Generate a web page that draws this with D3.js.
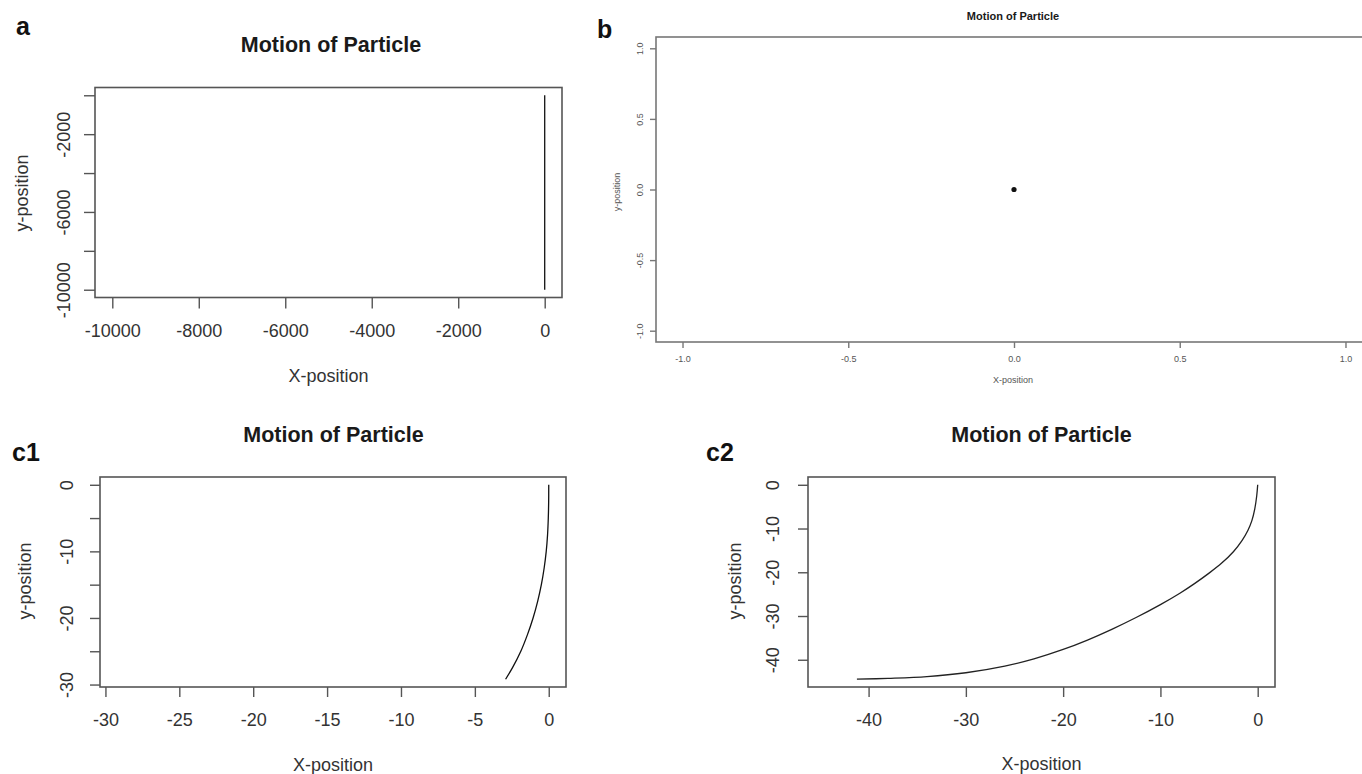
<!DOCTYPE html>
<html>
<head>
<meta charset="utf-8">
<script src="https://cdn.jsdelivr.net/npm/d3@7"></script>
<style>
  body { margin: 0; background: #fff; }
  svg { display: block; font-family: "Liberation Sans", Arial, sans-serif; }
</style>
</head>
<body>
<svg id="fig" width="1362" height="774"></svg>
<script>
// panel a: straight drop
var aX = [0, 0];
var aY = [0, -10000];
var aXTicks = [-10000, -8000, -6000, -4000, -2000, 0];
var aYTicks = [0, -2000, -4000, -6000, -8000, -10000];
var aYLabels = [-2000, -6000, -10000];

// panel b: particle stays at origin
var bX = [0];
var bY = [0];
var bTicks = [-1, -0.5, 0, 0.5, 1];

// panel c1
var c1X = [0, -0.005, -0.03, -0.08, -0.17, -0.31, -0.5, -0.75, -1.06, -1.44, -1.89, -2.46, -2.92];
var c1Y = [0, -2.5, -5, -7.5, -10, -12.5, -15, -17.5, -20, -22.5, -25, -27.5, -29.2];
var c1XTicks = [-30, -25, -20, -15, -10, -5, 0];
var c1YTicks = [0, -5, -10, -15, -20, -25, -30];
var c1YLabels = [0, -10, -20, -30];

// panel c2
var c2X = [0, -0.1, -0.3, -0.6, -1.0, -1.6, -2.5, -3.7, -5.0, -6.5, -8.0, -10.0, -12.5, -15.0, -17.5, -20.0, -23.0, -26.0, -30.0, -34.0, -38.0, -41.2];
var c2Y = [0, -2.5, -5.5, -8.2, -10.4, -12.7, -15.3, -17.9, -20.2, -22.6, -24.8, -27.4, -30.35, -33.05, -35.5, -37.65, -39.8, -41.45, -42.97, -43.85, -44.25, -44.45];
var c2Ticks = [-40, -30, -20, -10, 0];

var svg = d3.select("#fig");

// R pads the axis range by 4% on each side
function padded(ext) {
    var p = (ext[1] - ext[0]) * 0.04;
    return [ext[0] - p, ext[1] + p];
}

function panel(o) {
    var g = svg.append("g");
    var x = d3.scaleLinear().domain(o.xDomain).range([o.left, o.right]);
    var y = d3.scaleLinear().domain(o.yDomain).range([o.bottom, o.top]);

    // x axis
    var xa = g.append("g")
        .attr("transform", "translate(0," + o.bottom + ")")
        .call(d3.axisBottom(x).tickValues(o.xTicks).tickSize(o.tick).tickPadding(0)
            .tickFormat(o.fmt));
    xa.select(".domain").remove();
    xa.selectAll("line").attr("stroke", o.axisColor).attr("stroke-width", 1.4);
    xa.selectAll("text")
        .attr("y", o.xLabelY - o.bottom).attr("dy", 0)
        .attr("fill", o.textColor)
        .style("font-size", o.tickFont + "px");

    // y axis, labels parallel to the axis
    var ya = g.append("g")
        .attr("transform", "translate(" + o.left + ",0)")
        .call(d3.axisLeft(y).tickValues(o.yTicks).tickSize(o.tick)
            .tickFormat(function(d) {
                return o.yLabels.indexOf(d) >= 0 ? o.fmt(d) : "";
            }));
    ya.select(".domain").remove();
    ya.selectAll("line").attr("stroke", o.axisColor).attr("stroke-width", 1.4);
    ya.selectAll("text")
        .attr("transform", "rotate(-90)")
        .attr("x", 0).attr("y", o.yLabelX - o.left).attr("dy", 0)
        .attr("fill", o.textColor)
        .style("text-anchor", "middle")
        .style("font-size", o.tickFont + "px");

    // data
    var pts = o.xs.map(function(d, i) { return [d, o.ys[i]]; });
    if (pts.length > 1) {
        g.append("path")
            .datum(pts)
            .attr("fill", "none")
            .attr("stroke", o.lineColor)
            .attr("stroke-width", 1.3)
            .attr("d", d3.line().curve(d3.curveCatmullRom)
                .x(function(d) { return x(d[0]); })
                .y(function(d) { return y(d[1]); }));
    } else {
        g.selectAll("circle").data(pts).enter().append("circle")
            .attr("cx", function(d) { return x(d[0]); })
            .attr("cy", function(d) { return y(d[1]); })
            .attr("r", 2.6)
            .attr("fill", "#111");
    }

    // box
    g.append("rect")
        .attr("x", o.left).attr("y", o.top)
        .attr("width", o.right - o.left).attr("height", o.bottom - o.top)
        .attr("fill", "none")
        .attr("stroke", o.axisColor)
        .attr("stroke-width", 1.6);

    // titles
    g.append("text")
        .attr("x", o.titleX).attr("y", o.titleY)
        .attr("text-anchor", "middle")
        .attr("font-weight", "bold")
        .attr("fill", "#1a1a1a")
        .style("font-size", o.titleFont + "px")
        .text("Motion of Particle");

    g.append("text")
        .attr("x", (o.left + o.right) / 2 + (o.xTitleShift || 0)).attr("y", o.xTitleY)
        .attr("text-anchor", "middle")
        .attr("fill", o.textColor)
        .style("font-size", o.axisFont + "px")
        .text("X-position");

    g.append("text")
        .attr("transform", "translate(" + o.yTitleX + "," + o.yTitleY + ") rotate(-90)")
        .attr("text-anchor", "middle")
        .attr("fill", o.textColor)
        .style("font-size", o.axisFont + "px")
        .text("y-position");

    // panel letter
    g.append("text")
        .attr("x", o.tagX).attr("y", o.tagY)
        .attr("font-weight", "bold")
        .attr("fill", "#111")
        .style("font-size", o.tagFont + "px")
        .text(o.tag);
}

var intFmt = function(d) { return String(d); };

var aDom = padded(d3.extent(aY));
panel({
    tag: "a", tagX: 16, tagY: 35, tagFont: 25,
    xs: aX, ys: aY, xDomain: aDom, yDomain: aDom,
    left: 95, right: 562, top: 87.5, bottom: 297.5,
    xTicks: aXTicks, yTicks: aYTicks, yLabels: aYLabels, fmt: intFmt,
    tick: 11, tickFont: 18, axisFont: 18, titleFont: 21.5,
    xLabelY: 337, yLabelX: 70,
    titleX: 331, titleY: 52,
    xTitleY: 382, xTitleShift: 0, yTitleX: 28, yTitleY: 193,
    axisColor: "#555", textColor: "#333", lineColor: "#111"
});

panel({
    tag: "b", tagX: 597, tagY: 38, tagFont: 25,
    xs: bX, ys: bY, xDomain: padded([-1, 1]), yDomain: padded([-1, 1]),
    left: 656, right: 1372, top: 37, bottom: 342,
    xTicks: bTicks, yTicks: bTicks, yLabels: bTicks,
    fmt: function(d) { return d.toFixed(1); },
    tick: 6, tickFont: 9, axisFont: 9, titleFont: 11,
    xLabelY: 362, yLabelX: 643,
    titleX: 1013, titleY: 20,
    xTitleY: 383, xTitleShift: -1, yTitleX: 620, yTitleY: 192,
    axisColor: "#777", textColor: "#555", lineColor: "#111"
});

var c1Dom = padded(d3.extent(c1Y));
panel({
    tag: "c1", tagX: 12, tagY: 461, tagFont: 25,
    xs: c1X, ys: c1Y, xDomain: c1Dom, yDomain: c1Dom,
    left: 100, right: 566, top: 477, bottom: 687,
    xTicks: c1XTicks, yTicks: c1YTicks, yLabels: c1YLabels, fmt: intFmt,
    tick: 10, tickFont: 18, axisFont: 18, titleFont: 21.5,
    xLabelY: 726, yLabelX: 73,
    titleX: 333.5, titleY: 442,
    xTitleY: 771, xTitleShift: 0, yTitleX: 31, yTitleY: 581,
    axisColor: "#555", textColor: "#333", lineColor: "#111"
});

var c2Dom = padded(d3.extent(c2Y));
panel({
    tag: "c2", tagX: 706, tagY: 461, tagFont: 25,
    xs: c2X, ys: c2Y, xDomain: c2Dom, yDomain: c2Dom,
    left: 808, right: 1275, top: 477, bottom: 687,
    xTicks: c2Ticks, yTicks: c2Ticks.slice().reverse(), yLabels: c2Ticks, fmt: intFmt,
    tick: 10, tickFont: 18, axisFont: 18, titleFont: 21.5,
    xLabelY: 726, yLabelX: 779,
    titleX: 1041.5, titleY: 442,
    xTitleY: 770, xTitleShift: 0, yTitleX: 741, yTitleY: 581,
    axisColor: "#555", textColor: "#333", lineColor: "#222"
});
</script>
</body>
</html>
